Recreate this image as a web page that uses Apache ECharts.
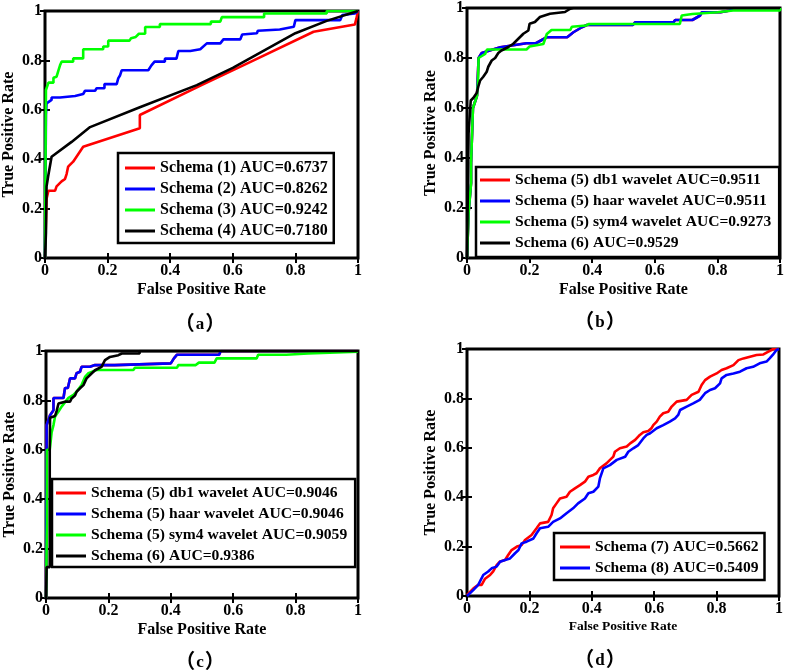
<!DOCTYPE html>
<html><head><meta charset="utf-8">
<script src="https://cdn.jsdelivr.net/npm/echarts@6/dist/echarts.min.js"></script>
<style>html,body{margin:0;padding:0;background:#fff}#c{width:787px;height:672px}</style>
</head><body><div id="c"></div>
<script>
// ---- data ----
const tickValues = [0, 0.2, 0.4, 0.6, 0.8, 1];
const panelLetters = ['a', 'b', 'c', 'd'];
const xName = 'False Positive Rate';
const yName = 'True Positive Rate';

const namesA = ['Schema (1) AUC=0.6737', 'Schema (2) AUC=0.8262', 'Schema (3) AUC=0.9242', 'Schema (4) AUC=0.7180'];
const namesB = ['Schema (5) db1 wavelet AUC=0.9511', 'Schema (5) haar wavelet AUC=0.9511', 'Schema (5) sym4 wavelet AUC=0.9273', 'Schema (6) AUC=0.9529'];
const namesC = ['Schema (5) db1 wavelet AUC=0.9046', 'Schema (5) haar wavelet AUC=0.9046', 'Schema (5) sym4 wavelet AUC=0.9059', 'Schema (6) AUC=0.9386'];
const namesD = ['Schema (7) AUC=0.5662', 'Schema (8) AUC=0.5409'];

const rocA1 = [[0,0],[0.004,0],[0.005,0.24],[0.011,0.245],[0.011,0.272],[0.032,0.272],[0.037,0.29],[0.053,0.31],[0.064,0.32],[0.069,0.34],[0.074,0.37],[0.09,0.39],[0.122,0.45],[0.303,0.525],[0.303,0.579],[0.5,0.70],[0.65,0.79],[0.858,0.916],[0.99,0.945],[0.995,0.97],[1,1]];
const rocA2 = [[0,0],[0.003,0.58],[0.005,0.626],[0.011,0.633],[0.021,0.64],[0.021,0.65],[0.048,0.65],[0.048,0.656],[0.096,0.656],[0.096,0.664],[0.122,0.664],[0.128,0.677],[0.16,0.677],[0.165,0.687],[0.19,0.687],[0.19,0.704],[0.229,0.704],[0.234,0.727],[0.24,0.74],[0.245,0.76],[0.33,0.76],[0.34,0.78],[0.35,0.795],[0.383,0.795],[0.383,0.807],[0.42,0.807],[0.426,0.838],[0.464,0.838],[0.47,0.845],[0.496,0.845],[0.517,0.869],[0.56,0.869],[0.57,0.885],[0.624,0.885],[0.63,0.905],[0.677,0.91],[0.68,0.92],[0.75,0.925],[0.795,0.936],[0.8,0.963],[0.943,0.963],[0.95,0.984],[0.99,0.99],[1,1]];
const rocA3 = [[0,0],[0.003,0.68],[0.007,0.68],[0.011,0.71],[0.027,0.71],[0.027,0.73],[0.037,0.734],[0.043,0.76],[0.048,0.78],[0.053,0.795],[0.09,0.795],[0.09,0.808],[0.122,0.808],[0.122,0.845],[0.186,0.845],[0.186,0.856],[0.202,0.856],[0.202,0.88],[0.27,0.88],[0.275,0.89],[0.29,0.895],[0.3,0.908],[0.32,0.908],[0.32,0.935],[0.367,0.935],[0.367,0.947],[0.53,0.947],[0.53,0.957],[0.56,0.957],[0.565,0.975],[0.7,0.975],[0.7,0.99],[0.9,0.99],[0.9,1],[1,1]];
const rocA4 = [[0,0],[0.003,0.1],[0.005,0.29],[0.01,0.33],[0.021,0.41],[0.027,0.417],[0.085,0.47],[0.144,0.53],[0.303,0.61],[0.485,0.70],[0.6,0.77],[0.8,0.91],[0.9,0.96],[1,1]];

const rocBdb1 = [[0,0],[0.005,0],[0.005,0.18],[0.013,0.3],[0.013,0.38],[0.019,0.6],[0.027,0.63],[0.032,0.65],[0.037,0.8],[0.047,0.82],[0.106,0.843],[0.19,0.859],[0.22,0.859],[0.255,0.883],[0.32,0.883],[0.34,0.903],[0.367,0.923],[0.383,0.932],[0.53,0.932],[0.537,0.943],[0.66,0.943],[0.665,0.952],[0.72,0.952],[0.745,0.97],[0.75,0.983],[0.81,0.983],[0.84,0.99],[0.85,1],[1,1]];
const rocBhaar = [[0,0],[0.005,0],[0.005,0.18],[0.013,0.3],[0.013,0.38],[0.019,0.6],[0.027,0.63],[0.032,0.65],[0.037,0.8],[0.047,0.82],[0.106,0.843],[0.19,0.859],[0.22,0.859],[0.255,0.883],[0.32,0.883],[0.34,0.903],[0.367,0.923],[0.383,0.932],[0.53,0.932],[0.537,0.943],[0.66,0.943],[0.665,0.952],[0.72,0.952],[0.745,0.97],[0.75,0.983],[0.81,0.983],[0.84,0.99],[0.85,1],[1,1]];
const rocBsym4 = [[0,0],[0.005,0],[0.005,0.18],[0.013,0.3],[0.013,0.38],[0.019,0.6],[0.027,0.63],[0.032,0.65],[0.035,0.7],[0.037,0.8],[0.058,0.816],[0.064,0.834],[0.19,0.834],[0.2,0.846],[0.244,0.856],[0.255,0.896],[0.27,0.912],[0.33,0.912],[0.335,0.925],[0.38,0.93],[0.39,0.936],[0.68,0.936],[0.686,0.97],[0.72,0.976],[0.8,0.983],[0.85,0.99],[1,0.99],[1,1]];
const rocB6 = [[0,0],[0.005,0],[0.005,0.497],[0.01,0.5],[0.012,0.63],[0.02,0.64],[0.031,0.66],[0.036,0.685],[0.042,0.71],[0.052,0.725],[0.063,0.745],[0.068,0.765],[0.079,0.79],[0.09,0.8],[0.1,0.82],[0.11,0.83],[0.132,0.844],[0.148,0.857],[0.164,0.877],[0.18,0.897],[0.196,0.91],[0.2,0.937],[0.217,0.944],[0.233,0.964],[0.265,0.977],[0.313,0.984],[0.33,0.997],[0.34,1],[1,1]];

const rocCdb1 = [[0,0],[0.002,0],[0.002,0.606],[0.002,0.7],[0.007,0.7],[0.013,0.74],[0.024,0.76],[0.024,0.81],[0.056,0.81],[0.061,0.85],[0.07,0.85],[0.077,0.889],[0.093,0.889],[0.098,0.91],[0.109,0.916],[0.114,0.936],[0.141,0.936],[0.157,0.943],[0.22,0.943],[0.225,0.95],[0.4,0.95],[0.41,0.97],[0.42,0.985],[0.555,0.985],[0.56,1],[1,1]];
const rocChaar = [[0,0],[0.002,0],[0.002,0.606],[0.002,0.7],[0.007,0.7],[0.013,0.74],[0.024,0.76],[0.024,0.81],[0.056,0.81],[0.061,0.85],[0.07,0.85],[0.077,0.889],[0.093,0.889],[0.098,0.91],[0.109,0.916],[0.114,0.936],[0.141,0.936],[0.157,0.943],[0.22,0.943],[0.225,0.95],[0.4,0.95],[0.41,0.97],[0.42,0.985],[0.555,0.985],[0.56,1],[1,1]];
const rocCsym4 = [[0,0],[0.003,0.3],[0.003,0.6],[0.012,0.6],[0.018,0.67],[0.024,0.7],[0.029,0.735],[0.04,0.755],[0.05,0.775],[0.072,0.81],[0.088,0.822],[0.098,0.836],[0.114,0.862],[0.125,0.895],[0.136,0.91],[0.162,0.923],[0.28,0.923],[0.285,0.932],[0.42,0.932],[0.424,0.943],[0.48,0.943],[0.49,0.953],[0.54,0.953],[0.547,0.97],[0.675,0.97],[0.68,0.985],[0.77,0.985],[0.84,0.99],[0.84,0.997],[1,0.997]];
const rocC6 = [[0,0],[0.002,0.125],[0.012,0.125],[0.012,0.606],[0.013,0.73],[0.029,0.737],[0.034,0.757],[0.04,0.787],[0.061,0.795],[0.077,0.795],[0.082,0.808],[0.093,0.82],[0.098,0.835],[0.109,0.849],[0.12,0.862],[0.13,0.889],[0.146,0.909],[0.157,0.922],[0.178,0.936],[0.189,0.963],[0.205,0.976],[0.232,0.983],[0.243,0.99],[0.3,0.99],[0.3,1],[1,1]];

const rocD7 = [[0,0.004],[0.02,0.03],[0.036,0.045],[0.047,0.045],[0.058,0.07],[0.074,0.085],[0.084,0.1],[0.095,0.125],[0.106,0.14],[0.122,0.146],[0.132,0.166],[0.143,0.186],[0.16,0.2],[0.175,0.206],[0.186,0.227],[0.207,0.247],[0.223,0.274],[0.234,0.294],[0.26,0.3],[0.271,0.328],[0.276,0.355],[0.287,0.375],[0.298,0.395],[0.319,0.402],[0.33,0.422],[0.346,0.436],[0.362,0.449],[0.378,0.463],[0.389,0.483],[0.405,0.49],[0.415,0.497],[0.426,0.517],[0.447,0.537],[0.469,0.564],[0.474,0.584],[0.49,0.598],[0.512,0.605],[0.523,0.618],[0.539,0.632],[0.554,0.652],[0.565,0.663],[0.581,0.668],[0.591,0.679],[0.597,0.692],[0.608,0.706],[0.618,0.726],[0.629,0.74],[0.645,0.746],[0.656,0.767],[0.672,0.787],[0.704,0.794],[0.72,0.814],[0.742,0.827],[0.752,0.854],[0.763,0.874],[0.779,0.888],[0.8,0.901],[0.816,0.915],[0.832,0.922],[0.854,0.935],[0.87,0.955],[0.886,0.962],[0.907,0.969],[0.928,0.976],[0.95,0.978],[0.966,0.989],[0.982,1],[1,1]];
const rocD8 = [[0,0],[0.02,0.024],[0.036,0.045],[0.047,0.072],[0.052,0.085],[0.068,0.099],[0.079,0.112],[0.095,0.119],[0.106,0.139],[0.122,0.146],[0.138,0.152],[0.154,0.173],[0.165,0.186],[0.175,0.213],[0.191,0.22],[0.213,0.233],[0.223,0.254],[0.234,0.274],[0.26,0.28],[0.276,0.3],[0.298,0.314],[0.319,0.335],[0.34,0.355],[0.356,0.375],[0.378,0.395],[0.389,0.416],[0.405,0.422],[0.421,0.443],[0.426,0.476],[0.437,0.517],[0.458,0.53],[0.48,0.551],[0.507,0.564],[0.517,0.584],[0.533,0.598],[0.549,0.611],[0.565,0.638],[0.576,0.652],[0.587,0.659],[0.608,0.679],[0.629,0.692],[0.65,0.706],[0.667,0.719],[0.677,0.733],[0.683,0.753],[0.704,0.767],[0.725,0.78],[0.746,0.794],[0.763,0.821],[0.779,0.834],[0.795,0.841],[0.811,0.861],[0.816,0.881],[0.832,0.895],[0.854,0.901],[0.875,0.908],[0.896,0.922],[0.917,0.928],[0.938,0.942],[0.96,0.949],[0.97,0.962],[0.98,0.976],[0.992,0.996],[1,1]];

// ---- styling / layout ----
const FONT = "'Liberation Serif','Noto Sans CJK SC',serif";
const RED = '#ff0000', BLUE = '#0000ff', GREEN = '#00ff00', BLACK = '#000000';
const grids = [
  {left: 45, top: 11, width: 313, height: 247},
  {left: 467, top: 7, width: 313, height: 251},
  {left: 46, top: 351, width: 312, height: 247},
  {left: 467, top: 349, width: 312, height: 247}
];
const xNameSize = [16, 16, 16, 13.5];

const fmt = v => (v === 0 ? '0' : v === 1 ? '1' : (+v.toFixed(1)).toString());

const xAxes = [], yAxes = [];
grids.forEach((g, i) => {
  const base = {type: 'value', min: 0, max: 1, interval: 0.2, gridIndex: i,
    splitLine: {show: false}, axisLine: {show: false},
    axisTick: {show: true, inside: true, length: 5, lineStyle: {color: '#000', width: 2}}};
  xAxes.push(Object.assign({}, base, {position: 'bottom',
    axisLabel: {formatter: fmt, color: '#000', fontFamily: FONT, fontWeight: 'bold', fontSize: 16, margin: 5},
    name: xName, nameLocation: 'middle', nameGap: 24,
    nameTextStyle: {color: '#000', fontFamily: FONT, fontWeight: 'bold', fontSize: xNameSize[i]}}));
  xAxes.push(Object.assign({}, base, {position: 'top', axisLabel: {show: false}}));
  yAxes.push(Object.assign({}, base, {position: 'left',
    axisLabel: {formatter: fmt, color: '#000', fontFamily: FONT, fontWeight: 'bold', fontSize: 16, margin: 3},
    name: yName, nameLocation: 'middle', nameGap: 28,
    nameTextStyle: {color: '#000', fontFamily: FONT, fontWeight: 'bold', fontSize: 16}}));
  yAxes.push(Object.assign({}, base, {position: 'right', axisLabel: {show: false}}));
});

function mk(name, data, color, gi) {
  return {type: 'line', name, data, xAxisIndex: gi * 2, yAxisIndex: gi * 2,
    showSymbol: false, symbol: 'none', animation: false,
    lineStyle: {color, width: 2.6}, itemStyle: {color}};
}
const series = [
  mk(namesA[0], rocA1, RED, 0), mk(namesA[1], rocA2, BLUE, 0), mk(namesA[2], rocA3, GREEN, 0), mk(namesA[3], rocA4, BLACK, 0),
  mk(namesB[0], rocBdb1, RED, 1), mk(namesB[1], rocBhaar, BLUE, 1), mk(namesB[2], rocBsym4, GREEN, 1), mk(namesB[3], rocB6, BLACK, 1),
  mk(namesC[0], rocCdb1, RED, 2), mk(namesC[1], rocChaar, BLUE, 2), mk(namesC[2], rocCsym4, GREEN, 2), mk(namesC[3], rocC6, BLACK, 2),
  mk(namesD[0], rocD7, RED, 3), mk(namesD[1], rocD8, BLUE, 3)
];

function lg(data, left, top, padding, fontSize) {
  return {data, left, top, orient: 'vertical', icon: 'rect', itemWidth: 30, itemHeight: 3, itemGap: 3,
    padding, backgroundColor: '#fff', borderColor: '#000', borderWidth: 2.5, selectedMode: false,
    textStyle: {color: '#000', fontFamily: FONT, fontWeight: 'bold', fontSize, lineHeight: 18}};
}
const legends = [
  lg(namesA, 118, 153, [6, 6, 3, 7], 16),
  lg(namesB, 476, 167, [4, 8, 5, 4], 15.6),
  lg(namesC, 52, 479, [5, 8, 2, 4], 15.6),
  lg(namesD, 554, 533, [5, 6, 3, 6], 15.6)
];

const labelPos = [[200, 325], [600, 323], [200, 663], [600, 661]];
const graphics = panelLetters.map((t, i) => ({type: 'text', x: labelPos[i][0], y: labelPos[i][1],
  style: {text: '{p|（}{l|' + t + '}{p|）}', align: 'center', verticalAlign: 'middle',
    rich: {
      p: {fill: '#000', fontFamily: FONT, fontSize: 20, fontWeight: 'bold'},
      l: {fill: '#000', fontFamily: FONT, fontSize: 17, fontWeight: 'bold', padding: [0, 1]}
    }}}));

const chart = echarts.init(document.getElementById('c'), null, {renderer: 'canvas'});
chart.setOption({
  animation: false,
  grid: grids.map(g => Object.assign({show: true, borderColor: '#000', borderWidth: 3, backgroundColor: 'transparent', containLabel: false}, g)),
  xAxis: xAxes, yAxis: yAxes, series, legend: legends, graphic: graphics
});
</script></body></html>
